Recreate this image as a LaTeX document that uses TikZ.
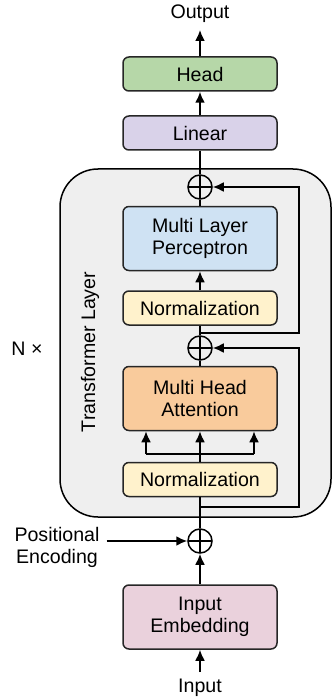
\documentclass[tikz,border=0pt]{standalone}
\usepackage{fontspec}
\setmainfont{Liberation Sans}
\usepackage{xcolor}
\usetikzlibrary{arrows.meta,calc,positioning}
\definecolor{headgreen}{HTML}{B6D7A8}
\definecolor{linpurple}{HTML}{D9D2E9}
\definecolor{mlpblue}{HTML}{CFE2F3}
\definecolor{normyellow}{HTML}{FFF2CC}
\definecolor{attnorange}{HTML}{F9CB9C}
\definecolor{embpink}{HTML}{EAD1DC}
\definecolor{layergray}{HTML}{EFEFEF}

\begin{document}
\begin{tikzpicture}[x=0.5pt,y=-0.5pt, font=\fontsize{9.8}{11}\selectfont,
  block/.style={draw=black!85, line width=0.75pt, rounded corners=3pt, minimum width=77pt, minimum height=17pt, inner sep=0pt, align=center},
  tall/.style={block, minimum height=32pt},
  addnode/.style={draw, circle, line width=0.75pt, minimum size=12pt, inner sep=0pt,
    path picture={\draw[line width=0.75pt] (path picture bounding box.north) -- (path picture bounding box.south)
      (path picture bounding box.west) -- (path picture bounding box.east);}},
  arr/.style={-{Latex[length=5.5pt,width=5pt]}, line width=1pt},
  conn/.style={line width=1pt}]
\useasboundingbox (0,0) rectangle (332,700);
% transformer layer background
\draw[fill=layergray, line width=0.75pt, rounded corners=19pt] (60,169) rectangle (331,517);

% blocks
\node (output) at (200,14) {Output};
\node[block, fill=headgreen] (head) at (200,74) {Head};
\node[block, fill=linpurple] (linear) at (200,133) {Linear};
\node[addnode] (add1) at (200,187) {};
\node[tall, fill=mlpblue] (mlp) at (200,238.5) {Multi Layer\\Perceptron};
\node[block, fill=normyellow] (norm2) at (200,308) {Normalization};
\node[addnode] (add2) at (200,348) {};
\node[tall, fill=attnorange] (mha) at (200,398.5) {Multi Head\\Attention};
\node[block, fill=normyellow] (norm1) at (200,479.5) {Normalization};
\node[addnode] (add0) at (200,541) {};
\node[tall, fill=embpink] (embed) at (200,617) {Input\\Embedding};
\node (input) at (200,688) {Input};
\node[align=center] (posenc) at (57,547) {Positional\\Encoding};
\node (nx) at (27,349) {N ×};
\node[rotate=90] (layer) at (90,352) {Transformer Layer};

% main path
\draw[arr] (head.north) -- (output.south);
\draw[arr] (linear.north) -- (head.south);
\draw[conn] (linear.south) -- (add1.north);
\draw[conn] (add1.south) -- (mlp.north);
\draw[arr] (norm2.north) -- (mlp.south);
\draw[conn] (norm2.south) -- (add2.north);
\draw[conn] (add2.south) -- (mha.north);
\draw[conn] (norm1.south) -- (add0.north);
\draw[arr] (embed.north) -- (add0.south);
\draw[arr] (input.north) -- (embed.south);
\draw[arr] (posenc.east |- add0.west) -- (add0.west);

% split into attention
\coordinate (split) at (200,454);
\coordinate (splitl) at (146,454);
\coordinate (splitr) at (254,454);
\draw[conn] (norm1.north) -- (split);
\draw[arr] (split) -- (mha.south);
\draw[conn] (splitl) -- (splitr);
\draw[arr] (splitl) -- (splitl |- mha.south);
\draw[arr] (splitr) -- (splitr |- mha.south);

% residuals
\coordinate (res1) at (200,333);
\coordinate (res1r) at (299,333);
\draw[arr] (res1) -- (res1r) |- (add1.east);
\coordinate (res2) at (200,507);
\coordinate (res2r) at (299,507);
\draw[arr] (res2) -- (res2r) |- (add2.east);
\end{tikzpicture}
\end{document}
